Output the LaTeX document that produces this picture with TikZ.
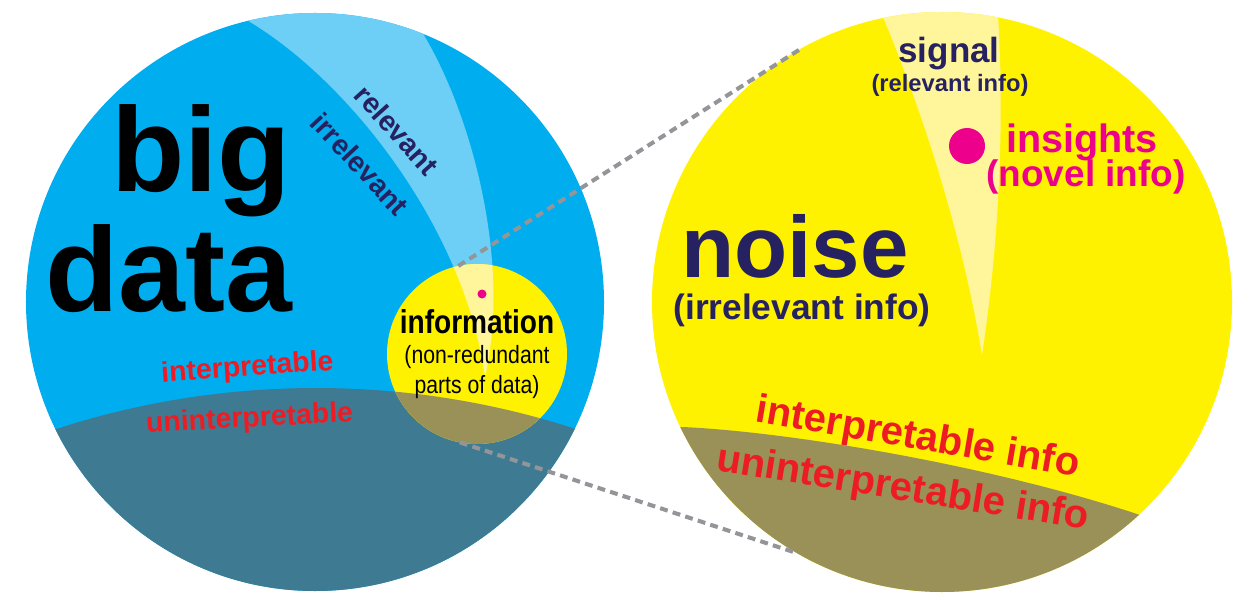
\documentclass[tikz,border=0pt]{standalone}
\usepackage{fontspec}
\setmainfont{Liberation Sans}
\newfontfamily\narrowfont[FakeStretch=0.85]{Liberation Sans}
\usetikzlibrary{positioning}
\definecolor{skyblue}{HTML}{00AEEF}
\definecolor{paleblue}{HTML}{6DCFF6}
\definecolor{deepteal}{HTML}{3E7B93}
\definecolor{sunyellow}{HTML}{FFF200}
\definecolor{paleyellow}{HTML}{FFF59A}
\definecolor{mudolive}{HTML}{999157}
\definecolor{inkblue}{HTML}{262262}
\definecolor{alertred}{HTML}{ED1C24}
\definecolor{hotpink}{HTML}{EC008C}
\definecolor{dashgray}{HTML}{939598}
\newcommand{\relband}{(215,0) -- (245,19) .. controls (350,80) and (465,230) .. (485,377) .. controls (512,260) and (470,110) .. (422,32) -- (402,0) -- cycle}
\newcommand{\darkcap}{(316,1227) circle (839)}

\begin{document}
\begin{tikzpicture}[x=0.2mm, y=-0.2mm, every node/.style={inner sep=0pt, outer sep=0pt},
    zone/.style={circle, minimum size=#1},
    dot/.style={circle, fill=hotpink, minimum size=#1},
    connector/.style={dashgray, line width=2.3pt, dash pattern=on 4.5pt off 3pt},
    title/.style={font=\bfseries\fontsize{68.3}{68}\selectfont},
    edgelabel/.style={text=inkblue, font=\bfseries\fontsize{16.2}{16}\selectfont},
    leftred/.style={text=alertred, font=\bfseries\fontsize{16.2}{16}\selectfont},
    infohead/.style={font=\narrowfont\bfseries\fontsize{18.8}{19}\selectfont},
    infonote/.style={font=\narrowfont\fontsize{14.2}{14}\selectfont},
    sigtitle/.style={text=inkblue, font=\bfseries\fontsize{19.9}{20}\selectfont},
    signote/.style={text=inkblue, font=\bfseries\fontsize{13.5}{14}\selectfont},
    insight/.style={text=hotpink, font=\bfseries\fontsize{#1}{22}\selectfont},
    noisetitle/.style={text=inkblue, font=\bfseries\fontsize{49.5}{50}\selectfont},
    noisenote/.style={text=inkblue, font=\bfseries\fontsize{20.1}{20}\selectfont},
    rightred/.style={text=alertred, font=\bfseries\fontsize{22.8}{23}\selectfont}]

\fill[white] (0,0) rectangle (1250,600);
\path[use as bounding box] (0,0) rectangle (1250,600);

% big data circle
\node[zone=115.6mm, fill=skyblue] (bigdata) at (315,302) {};
\begin{scope}
    \clip (bigdata.center) circle (289);
    \fill[paleblue] \relband;
    \fill[deepteal] \darkcap;
\end{scope}

% information circle
\node[zone=36mm, fill=sunyellow] (infozone) at (477,354) {};
\begin{scope}
    \clip (infozone.center) circle (90);
    \fill[paleyellow] \relband;
    \fill[mudolive] \darkcap;
\end{scope}
\node[dot=1.8mm] (infodot) at (482,294) {};

% zoomed information circle
\node[zone=116mm, fill=sunyellow] (infobig) at (942,302) {};
\begin{scope}
    \clip (infobig.center) circle (290);
    \fill[paleyellow] (875,0) -- (883,17) .. controls (930,130) and (965,250) .. (982,355) .. controls (998,250) and (1005,130) .. (998,15) -- (998,0) -- cycle;
    \fill[mudolive] (640,427) -- (683,427) .. controls (790,432) and (990,465) .. (1140,515) -- (1250,560) -- (1250,600) -- (640,600) -- cycle;
\end{scope}
\node[dot=7.2mm] (insightdot) at (967,146) {};

\draw[connector] (infozone.102) -- (infobig.119);
\draw[connector] (infozone.259) -- (infobig.240);

\node[title, anchor=base east] (big) at (291,192) {big};
\node[title, anchor=base east] (data) at (292,312) {data};
\node[edgelabel, rotate=-48] (relevant) at (397,130) {relevant};
\node[edgelabel, rotate=-47] (irrelevant) at (360,164) {irrelevant};
\node[leftred, anchor=base, rotate=4] (interp) at (248,376) {interpretable};
\node[leftred, anchor=base, rotate=3] (uninterp) at (250,427) {uninterpretable};

\node[infohead, anchor=base] (information) at (477,333) {information};
\node[infonote, anchor=base] (nonredundant) at (477,363) {(non-redundant};
\node[infonote, anchor=base] (partsofdata) at (477,393) {parts of data)};

\node[sigtitle, anchor=base] (signal) at (949,63) {signal};
\node[signote, anchor=base] (signalnote) at (950,92) {(relevant info)};
\node[insight=22.5, anchor=base] (insights) at (1082,153) {insights};
\node[insight=21, anchor=base] (novel) at (1086,187) {(novel info)};
\node[noisetitle, anchor=base] (noise) at (795,277) {noise};
\node[noisenote, anchor=base] (noisenote) at (802,319) {(irrelevant info)};
\node[rightred, anchor=base, rotate=-9.7] (interpinfo) at (916,449) {interpretable info};
\node[rightred, anchor=base, rotate=-9.1] (uninterpinfo) at (901,500) {uninterpretable info};
\end{tikzpicture}
\end{document}
